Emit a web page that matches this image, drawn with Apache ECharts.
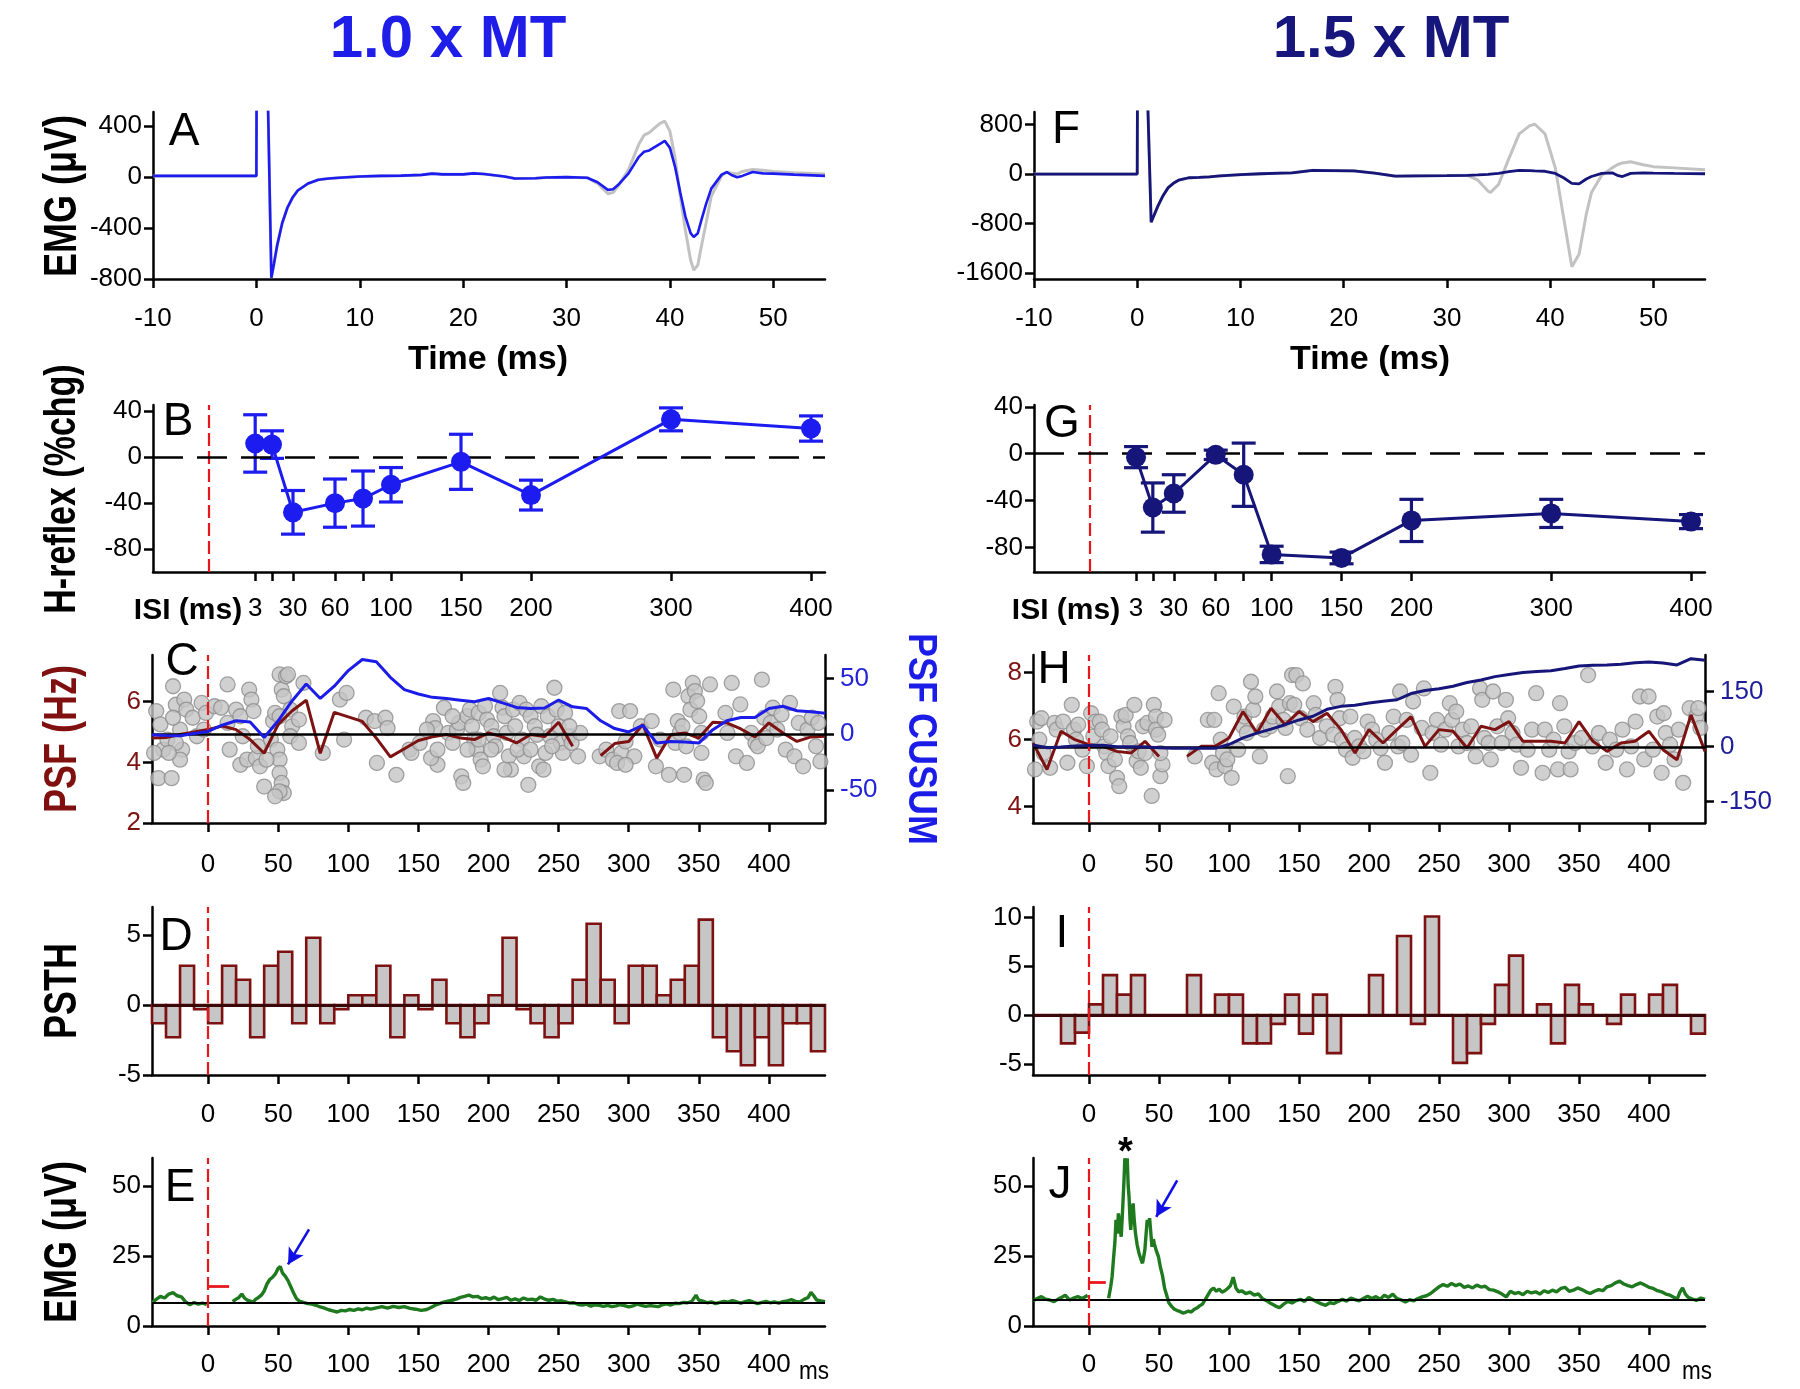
<!DOCTYPE html>
<html>
<head>
<meta charset="utf-8">
<script src="https://cdn.jsdelivr.net/npm/echarts@6.0.0/dist/echarts.min.js"></script>
<style>
html,body{margin:0;padding:0;background:#fff;}
#chart{width:1800px;height:1389px;}
</style>
</head>
<body>
<div id="chart"></div>
<script>
// ================= DATA =================
// Panels A / F : EMG sweeps (ms, µV)
const aTime = [-10,-5,-0.2,0,0.05,0.9,1.45,1.7,2,2.5,3,3.5,4,5,6,7,8,10,12,14,16,17,18,20,21,22,24,25,27,28,30,32,33,34,34.5,35,36,37,37.5,38,39,39.5,40,40.5,41,41.5,42,42.3,42.7,43,43.5,44,45,45.5,46,46.5,47,48,49,50,52,55];
const aTest = [10,10,10,10,1500,1500,-790,-680,-540,-360,-240,-160,-105,-50,-20,-10,-5,5,10,12,18,28,22,22,30,25,5,-10,-8,-2,0,-5,-40,-100,-95,-60,30,160,200,210,260,285,230,80,-120,-310,-440,-470,-440,-350,-210,-90,20,40,15,0,10,40,30,28,20,10];
const aControl = [10,10,10,10,1500,1500,-790,-680,-540,-360,-240,-160,-105,-50,-20,-10,-5,5,10,12,18,28,22,22,30,25,5,-10,-8,-2,0,-5,-50,-130,-120,-70,60,260,330,350,420,440,360,150,-150,-420,-650,-730,-690,-560,-360,-150,10,40,30,25,45,60,55,45,35,25];
const fTime = [-10,-5,-0.2,0,0.05,0.7,1.35,1.6,2,2.5,3,3.5,4,5,6,7,8,10,12,14,15,17,19,21,23,25,27,30,32,33,34,34.2,35,36,37,38,38.5,39.5,40.5,41.3,42.1,42.8,43.5,44,45,46,46.5,47,47.8,49,50,52,55];
const fTest = [0,0,0,0,3000,3000,-780,-680,-520,-350,-220,-150,-100,-60,-55,-45,-30,-10,5,15,20,60,55,50,15,-35,-30,-25,-20,-15,-5,0,10,40,60,55,50,45,10,-60,-150,-160,-80,-40,10,20,-20,-40,10,20,15,10,5];
const fControl = [0,0,0,0,3000,3000,-780,-680,-520,-350,-220,-150,-100,-60,-55,-45,-30,-10,5,15,20,60,55,50,15,-35,-30,-25,-20,-100,-280,-300,-170,250,650,780,810,650,100,-700,-1500,-1300,-650,-300,-20,100,150,180,200,150,120,100,70];

// Panels B / G : H-reflex % change vs ISI
const isiValues = [3,15,30,60,80,100,150,200,300,400];
const isiTickLabels = [3,30,60,100,150,200,300,400];
const isiStim = -30;
const bMean = [12,11,-48,-40,-36,-24,-4,-33,33,25];
const bSem  = [25,12,19,21,24,15,24,13,10,11];
const gMean = [-3,-46,-34,-1,-18,-86,-89,-57,-51,-58];
const gSem  = [9,21,16,4,27,7,5,18,12,6];

// Shared time bins (ms)
const timeTicks = [0,50,100,150,200,250,300,350,400];
const binTime = [-40,-30,-20,-10,0,10,20,30,40,50,60,70,80,90,100,110,120,130,140,150,160,170,180,190,200,210,220,230,240,250,260,270,280,290,300,310,320,330,340,350,360,370,380,390,400,410,420,430,440];

// Panels C / H : PSF (Hz) and CUSUM
const cPsf = [4.8,4.82,4.92,5.0,5.08,5.2,5.08,4.75,4.3,5.25,5.7,6.05,4.3,5.65,5.5,5.35,4.8,4.18,4.45,4.72,4.84,4.92,4.8,4.75,4.97,4.84,4.64,4.92,4.85,5.32,4.53,null,4.22,4.62,4.69,5.25,4.14,4.91,4.97,4.8,5.32,5.3,5.1,4.84,5.3,4.97,4.69,4.84,4.86];
const cCusum = [-0.6,-1.2,-1.5,0.5,2.4,8,12,11,-3,12,30,45,32,43,57,67,65,51,40,36,33,32,30.5,29,32,28,24,23,23.5,30.6,24.5,23,12,5,2,8,-8,-6.5,-7,-8,4,12,15,15,23,25,21,20,18.8];
const cMeanPsf = 4.92;
const hPsf = [5.9,5.11,6.25,6.0,5.85,5.8,5.65,5.6,5.95,5.5,null,5.5,5.8,5.8,6.05,6.84,6.2,6.94,6.45,6.84,6.54,6.79,6.3,5.6,6.3,5.9,6.3,6.69,5.8,6.3,6.25,5.75,6.4,6.3,6.54,5.95,5.95,5.95,5.9,6.54,5.95,5.65,5.9,5.95,6.25,5.7,5.4,6.74,5.65];
const hCusum = [4.5,-3,-1,2,3,4,0,0,-1,-3,-4,-4.5,-4.5,-4.5,6,24,37,48,60,73,83,102,110,113,119,124,128,145,153,158,165,175,182,191,197,202,205,207,213,220,222,223,225,229,231,228,223,240,236];
const hMeanPsf = 5.78;

const cDots = [[-37,5.69],[-34,5.25],[-32,4.42],[-29,4.75],[-35.5,3.48],[-26,3.48],[-25,6.51],[-23,5.9],[-20,5.08],[-18.5,4.42],[-17,6.07],[-15.5,5.74],[-25,5.47],[-23,4.64],[-20,4.09],[-28,4.31],[-38.5,4.31],[-11,5.47],[-8,4.86],[-4.6,5.96],[-3,5.08],[-1.5,5.63],
[4.6,5.85],[9.3,5.8],[13.9,6.57],[13.9,5.3],[15.4,4.42],[20,5.74],[23,5.52],[24.7,4.86],[29.3,6.4],[30.9,6.07],[32.4,5.69],[23,3.92],[27.8,4.09],[34,4.14],[37,3.87],[40,3.2],[44.8,4.75],[46.3,5.36],[47.8,5.63],[49.4,4.42],[51,4.09],[51,6.9],[52.5,6.4],[54,6.18],[55.6,6.84],[57,6.9],[51,3.65],[52.5,3.32],[54,2.99],[51,3.04],[47.8,2.88],[58.6,5.74],[60,5.19],[58.6,4.86],[51,5.52],[41.7,4.09],[35.5,4.53],
[68,6.62],[64.8,5.41],[64.8,4.64],[81.8,4.31],[94,6.07],[98.8,6.29],[97,4.75],[112.6,5.47],[118.8,5.36],[126.5,5.47],[128,5.13],[120.4,3.98],[134.3,3.59],[143.5,4.42],[145,4.31],
[160.5,5.36],[162,5.13],[163.6,3.92],[168.2,5.8],[171.3,4.97],[174.4,4.64],[177.5,5.08],[179,5.3],[180.6,3.54],[182,3.32],[185,5.52],[186.7,5.74],[188.3,5.19],[189.8,4.75],[191.4,4.42],[193,5.63],[194.4,4.09],[196,3.87],[197.5,5.85],[199,5.41],[202,5.19],[203.7,4.86],[205,4.53],[208.3,6.29],[210,5.8],[211.4,5.52],[213,4.97],[214.5,4.2],[216,3.76],[217.6,5.74],[219,5.19],[222.2,5.96],[223.8,4.75],[225.3,4.2],[226.9,5.74],[228.4,3.26],[230,5.52],[233,5.19],[234.6,4.91],[236.1,3.87],[237.7,5.85],[239.2,3.76],[240.7,4.31],[242.3,5.52],[243.8,4.86],[247,6.46],[248.5,5.74],[250,5.19],[251.5,4.64],[253,4.31],[254.6,5.63],[257.7,4.86],[259.3,4.64],[263.9,4.2],[265.4,4.97],[159,4.14],[163.6,4.42],[174.4,5.52],[185,4.42],[193,4.75],[202,4.42],[211.4,3.76],[220.7,4.42],[230,4.42],[245.4,4.53],[257.7,5.19],[151,4.64],[156,5.08],
[279.3,4.2],[284,4.42],[288.6,4.09],[293.2,5.69],[294.8,4.31],[297.8,4.69],[301,5.69],[304,4.2],[291.7,3.98],[297.8,3.92],[308.6,5.19],[316.4,5.36],[319.4,3.87],[322.5,4.75],[328.7,3.59],[331.8,6.4],[333.3,4.64],[335,5.36],[336.4,4.97],[339.5,3.59],[342.6,6.18],[344,5.74],[345.7,6.62],[347.2,6.35],[348.8,6.02],[350.3,5.52],[351.9,4.31],[353.4,3.43],[355,3.32],[358,6.57],[351.9,4.97],[341,4.53],[338.3,5.19],[369,5.63],[370.4,4.97],[373.5,6.62],[376.5,4.2],[379.6,5.91],[384.3,3.98],[387.3,4.97],[390.4,4.64],[392,4.53],[395,6.73],[396.6,5.47],[398.1,4.8],[401.2,5.3],[402.8,5.8],[405.9,5.08],[409,5.58],[412,4.42],[415,5.96],[418.2,4.2],[421.3,5.3],[424.4,3.87],[427.5,5.08],[430.6,5.47],[433.6,4.53],[436.7,4.03],[435.2,5.3]];

const hDots = [[-37,6.54],[-34,6.64],[-35.5,6.0],[-38.6,5.11],[-32.4,5.6],[-27.8,5.16],[-24.7,6.5],[-23.1,6.3],[-18.5,6.54],[-15.4,5.31],[-12.3,7.04],[-10.8,6.3],[-9.3,6.0],[-7.7,6.45],[-4.6,5.7],[-1.5,5.21],[1.5,6.79],[3.1,6.1],[4.6,6.54],[7.7,6.54],[9.3,6.3],[10.8,5.8],[12.3,5.6],[13.9,5.21],[15.4,6.1],[18.5,5.41],[20,4.86],[21.6,4.61],[23.1,6.69],[24.7,6.4],[26.2,6.74],[27.8,6.1],[29.3,5.9],[32.4,7.04],[34,5.36],[35.5,5.65],[37,5.16],[38.6,6.4],[41.7,6.5],[44.8,4.32],[46.3,7.04],[47.8,6.69],[47.8,6.3],[49.4,6.15],[51,4.91],[52.5,5.26],[54,6.59],[51,5.6],[40.1,5.6],
[75.6,5.5],[84.9,6.59],[88,5.31],[89.5,6.59],[91,5.11],[92.6,7.39],[94.1,6.0],[95.7,5.6],[97.2,5.21],[98.8,5.41],[101.9,4.86],[103.4,6.99],[106.5,5.7],[110,6.4],[111,6.69],[112.7,6.2],[115.7,7.73],[117.3,6.89],[118.8,7.29],[122,5.5],[125,6.3],[129.6,6.4],[131.2,6.69],[134.3,7.44],[135.8,6.99],[138.9,6.59],[140.4,6.35],[142,4.91],[143.5,7.09],[145,7.93],[148.1,7.93],[146.6,7.04],[151.2,6.64],[152.8,7.68],[155.9,6.3],[160.5,7.09],[162,6.74],[165.1,6.05],[169.8,6.4],[174.4,6.15],[176,7.58],[177.5,7.19],[179,6.64],[180.6,6.0],[183.6,5.7],[186.7,6.69],[188.3,5.46],[189.8,6.05],[193,5.8],[196,5.65],[199,6.54],[202.2,6.3],[205.2,6.0],[208.3,5.75],[211.4,5.31],[214.5,6.2],[217.6,6.69],[220.7,5.8],[222.2,7.44],[223.8,5.9],[226.9,6.59],[230,5.55],[231.5,7.14],[237.7,6.35],[239.2,7.53],[243.8,5.01],[245.4,6.2],[248.5,6.59],[251.5,5.85],[254.6,6.3],[257.7,7.09],[259.3,6.59],[262.3,6.84],[263.9,5.8],[267,6.3],[270,5.9],[273,6.4],[276.2,5.5],[279.3,7.53],[280.9,7.19],[282.4,6.05],[285.5,5.9],[287,5.41],[288.6,7.44],[291.7,6.4],[294.8,5.9],[297.8,7.19],[299.4,6.64],[302.5,6.2],[305.6,5.85],[308.6,5.16],[313.3,5.7],[316.4,6.3],[319.4,7.39],[324,5.01],[325.6,6.3],[328.7,5.7],[331.8,6.0],[335,5.11],[336.4,7.09],[339.5,6.4],[342.6,5.65],[344,5.11],[347.2,5.9],[351.9,6.05],[356.5,7.93],[359.6,5.8],[364.2,6.2],[369.1,5.31],[372,6.0],[376.5,5.7],[381,6.3],[384.3,5.11],[387.3,5.8],[390.4,6.54],[393.5,7.29],[396.6,5.41],[399.7,7.29],[402.8,5.7],[405.9,6.69],[409,5.01],[410.5,6.79],[412,6.2],[415.1,5.85],[418.2,5.41],[421.3,6.3],[424.4,4.71],[429,6.94],[433.6,6.69],[435.2,6.94],[436.7,6.35]];

// Panels D / I : PSTH (10 ms bins starting at)
const histStart = [-40,-30,-20,-10,0,10,20,30,40,50,60,70,80,90,100,110,120,130,140,150,160,170,180,190,200,210,220,230,240,250,260,270,280,290,300,310,320,330,340,350,360,370,380,390,400,410,420,430];
const histBinWidth = 10;
const dPsth = [-1.3,-2.3,2.8,-0.3,-1.3,2.8,1.8,-2.3,2.8,3.8,-1.3,4.8,-1.3,-0.3,0.7,0.7,2.8,-2.3,0.7,-0.3,1.8,-1.3,-2.3,-1.3,0.7,4.8,-0.3,-1.3,-2.3,-1.3,1.8,5.8,1.8,-1.3,2.8,2.8,0.7,1.8,2.8,6.1,-2.3,-3.3,-4.3,-2.3,-4.3,-1.3,-1.3,-3.3];
const iPsth = [0,0,-2.9,-1.8,1.1,4.1,2.1,4.1,0,0,0,4.1,0,2.1,2.1,-2.9,-2.9,-0.9,2.1,-1.9,2.1,-3.9,0,0,4.1,0,8.1,-0.9,10.1,0,-4.9,-3.9,-0.9,3.1,6.1,0,1.1,-2.9,3.1,1.1,0,-0.9,2.1,0,2.1,3.1,0,-1.9];

// Panels E / J : rectified EMG (ms, µV)
const eEmg = [[-40,8.3],[-37,9.5],[-34,10.6],[-31,10.0],[-28,11.4],[-25,11.9],[-22,10.8],[-19,10.4],[-16,8.6],[-13,7.6],[-10,8.4],[-7,7.8],[-4,8.2],[-1,7.6],[8,null],[17.5,8.7],[20,9.6],[22,10.2],[24,11.4],[26,10.0],[28,9.2],[30,8.9],[32,8.5],[34,9.6],[36,10.2],[38,11.0],[40,12.5],[42,15.0],[44,16.6],[46,17.4],[48,18.6],[50,20.6],[51.5,21.2],[53,19.0],[55,17.8],[57,16.2],[59,14.0],[61,11.8],[63,9.8],[65,8.9],[68,8.4],[71,8.0],[74,7.8],[77,7.4],[80,6.8],[83,6.4],[86,5.8],[89,5.4],[92,5.0],[95,5.6],[98,5.4],[101,5.9],[104,5.6],[107,6.1],[110,5.8],[113,6.4],[116,6.0],[120,6.5],[124,6.9],[128,6.4],[132,7.0],[136,6.6],[140,6.9],[144,6.3],[148,6.0],[152,5.6],[156,5.9],[159,6.6],[162,7.4],[165,8.0],[168,8.5],[171,8.9],[174,9.2],[177,9.6],[180,10.2],[183,10.6],[186,11.0],[189,10.4],[192,10.6],[195,9.8],[198,10.1],[201,9.6],[204,10.3],[207,9.4],[210,9.8],[213,10.2],[216,9.2],[219,9.7],[222,9.1],[225,10.0],[228,9.4],[231,9.6],[234,9.2],[237,10.4],[240,9.6],[243,9.2],[246,9.5],[249,8.9],[252,9.0],[255,8.6],[258,8.2],[261,8.3],[264,7.7],[267,7.5],[270,7.8],[273,7.1],[276,7.6],[279,7.4],[282,7.0],[285,7.4],[288,6.9],[291,7.2],[294,7.6],[297,7.3],[300,6.8],[303,7.2],[306,7.8],[309,7.4],[312,7.0],[315,7.3],[318,7.1],[321,6.9],[324,7.6],[327,7.9],[330,7.5],[333,8.1],[336,8.0],[339,8.4],[342,8.3],[345,8.8],[348,11.0],[350,9.2],[353,8.9],[356,8.3],[359,8.6],[362,8.0],[365,8.4],[368,8.8],[371,8.5],[374,9.1],[377,8.6],[380,8.2],[383,8.7],[386,9.1],[389,8.5],[392,8.0],[395,8.4],[398,8.8],[401,8.3],[404,8.6],[407,8.2],[410,8.7],[413,9.0],[416,9.4],[419,8.8],[422,8.6],[425,9.5],[428,10.2],[430,12.0],[432,10.8],[434,9.3],[437,9.0],[440,8.7]];
const jEmg = [[-40,9.0],[-37,9.8],[-34,10.5],[-31,9.6],[-28,9.3],[-25,8.7],[-22,9.6],[-19,10.4],[-17,11.0],[-14,9.3],[-11,10.0],[-8,10.5],[-5,9.8],[-2,10.6],[-1,11.0],[6,null],[14,9.9],[15.5,14.0],[16.5,17.6],[17.5,24.0],[18.5,30.0],[19.3,37.9],[20.2,33.0],[21,40.2],[22,36.0],[23,31.9],[24,41.4],[25,52.0],[25.6,59.9],[26.5,55.0],[27.3,59.9],[28,50.0],[28.6,46.2],[29.3,38.0],[29.8,34.3],[30.6,40.0],[31.5,43.8],[32.3,38.0],[33.2,33.1],[34.4,29.0],[35.7,26.0],[37,24.0],[38.2,22.4],[39,24.5],[39.9,27.1],[40.8,33.0],[41.6,37.9],[42.5,36.0],[43.3,38.5],[44.2,33.0],[45,28.3],[46,31.0],[46.6,29.5],[48,27.0],[49.6,24.8],[51,21.0],[52.5,18.0],[54,13.5],[55.5,11.0],[57,8.3],[59,7.0],[61,6.0],[63,5.5],[65,5.2],[67,4.6],[69,4.9],[71,5.3],[73,5.0],[75,5.9],[77,6.4],[79,7.2],[81,7.8],[83,9.4],[85,11.1],[87,12.8],[89,13.5],[91,12.4],[93,13.2],[95,12.1],[97,12.6],[99,13.4],[101,14.4],[103,17.4],[105,13.5],[107,12.2],[109,12.6],[112,11.6],[115,12.1],[118,11.0],[121,11.5],[124,9.7],[127,9.0],[130,8.0],[133,7.2],[136,6.5],[139,7.8],[142,8.8],[145,8.2],[148,9.1],[151,9.5],[154,8.8],[157,10.2],[160,9.4],[163,8.6],[166,7.9],[169,7.4],[172,8.3],[175,8.0],[178,8.8],[181,9.5],[184,8.9],[187,10.0],[190,9.4],[193,9.0],[196,9.8],[199,10.6],[202,9.8],[205,10.5],[208,9.6],[211,11.0],[214,10.2],[217,11.4],[220,9.8],[223,9.3],[226,8.6],[229,9.4],[232,9.0],[235,9.8],[238,10.4],[241,10.8],[244,11.6],[247,12.8],[250,14.0],[253,14.8],[256,14.2],[259,15.2],[262,14.4],[265,15.0],[268,13.8],[271,14.3],[274,13.6],[277,14.6],[280,13.9],[283,14.2],[286,13.0],[289,12.8],[292,12.2],[295,11.4],[298,10.4],[301,12.4],[304,11.6],[307,12.0],[310,11.2],[313,12.4],[316,11.8],[319,12.2],[322,11.4],[325,12.6],[328,12.0],[331,12.8],[334,12.2],[337,13.4],[340,13.8],[343,12.4],[346,12.8],[349,13.6],[352,13.0],[355,12.2],[358,11.6],[361,12.4],[364,13.0],[367,12.6],[370,14.0],[373,14.4],[376,15.4],[379,16.0],[382,15.0],[385,14.4],[388,14.0],[391,14.8],[394,15.4],[397,14.6],[400,13.8],[403,13.4],[406,12.6],[409,12.2],[412,11.4],[415,11.0],[418,10.2],[420,9.4],[422,12.0],[424,13.6],[426,11.4],[428,10.2],[431,9.6],[434,9.2],[437,10.0],[440,9.5]];
const eBaseline = 8.4, jBaseline = 9.5;
const eOnset = [[0,14.3],[15,14.3]];
const jOnset = [[0,15.5],[12,15.5]];
const eArrow = [[72,34.5],[57,22]];
const jArrow = [[63,52],[48,39]];
const jStar = [26,60];

// ================= STYLE =================
const FONT = "'Liberation Sans', Arial, Helvetica, sans-serif";
const BLUE = '#1c1cf0', NAVY = '#15157a', MAROON = '#7d1212', RED = '#e8171c', GREEN = '#1f7a1f', GRAY = '#c2c2c2';
const redDash = {color: RED, width: 2.2, type: [13, 5]};

const zip = (a, b) => a.map((x, i) => [x, b[i] === null ? '-' : b[i]]);
const clean = arr => arr.map(p => [p[0], p[1] === null ? '-' : p[1]]);

function valueAxis(opt) {
  return {
    type: 'value', gridIndex: opt.grid, min: opt.min, max: opt.max,
    position: opt.position,
    splitLine: {show: false},
    axisLine: {show: true, onZero: false, lineStyle: {color: '#000', width: 2.5}},
    axisTick: {show: true, inside: false, length: 9, customValues: opt.ticks, lineStyle: {color: '#000', width: 2.5}},
    axisLabel: {show: true, customValues: opt.labels || opt.ticks, color: opt.color || '#000', fontSize: 26,
      fontFamily: FONT, margin: opt.margin, formatter: v => String(v)}
  };
}

const grids = [
  {left:153, top:112, width:672, height:167},  // A
  {left:1034, top:112, width:671, height:167}, // F
  {left:153, top:405, width:672, height:167},  // B
  {left:1034, top:405, width:671, height:167}, // G
  {left:152, top:655, width:673, height:168},  // C
  {left:1033, top:655, width:672, height:168}, // H
  {left:152, top:907, width:673, height:168},  // D
  {left:1033, top:907, width:672, height:168}, // I
  {left:152, top:1158, width:673, height:168}, // E
  {left:1033, top:1158, width:672, height:168} // J
].map(g => Object.assign({containLabel:false, outerBoundsMode:'none', show:false}, g));

const msTicks = [-10,0,10,20,30,40,50];
const xAxes = [
  valueAxis({grid:0, min:-10, max:55, ticks:msTicks, margin:27}),
  valueAxis({grid:1, min:-10, max:55, ticks:msTicks, margin:27}),
  valueAxis({grid:2, min:-70, max:410, ticks:isiValues, labels:isiTickLabels, margin:24}),
  valueAxis({grid:3, min:-70, max:410, ticks:isiValues, labels:isiTickLabels, margin:24}),
  valueAxis({grid:4, min:-40, max:440, ticks:timeTicks, margin:29}),
  valueAxis({grid:5, min:-40, max:440, ticks:timeTicks, margin:29}),
  valueAxis({grid:6, min:-40, max:440, ticks:timeTicks, margin:27}),
  valueAxis({grid:7, min:-40, max:440, ticks:timeTicks, margin:27}),
  valueAxis({grid:8, min:-40, max:440, ticks:timeTicks, margin:26}),
  valueAxis({grid:9, min:-40, max:440, ticks:timeTicks, margin:26})
];
const yAxes = [
  valueAxis({grid:0, min:-800, max:512, ticks:[-800,-400,0,400], margin:11}),
  valueAxis({grid:1, min:-1700, max:1005, ticks:[-1600,-800,0,800], margin:11}),
  valueAxis({grid:2, min:-100, max:45.5, ticks:[-80,-40,0,40], margin:11}),
  valueAxis({grid:3, min:-101, max:41.5, ticks:[-80,-40,0,40], margin:11}),
  valueAxis({grid:4, min:2, max:7.54, ticks:[2,4,6], margin:11, color:MAROON}),
  valueAxis({grid:4, min:-79.7, max:71, ticks:[-50,0,50], margin:15, color:'#2323d8', position:'right'}),
  valueAxis({grid:5, min:3.51, max:8.53, ticks:[4,6,8], margin:11, color:MAROON}),
  valueAxis({grid:5, min:-208, max:250, ticks:[-150,0,150], margin:15, color:'#1e1e9a', position:'right'}),
  valueAxis({grid:6, min:-5, max:7, ticks:[-5,0,5], margin:11}),
  valueAxis({grid:7, min:-6.14, max:11.08, ticks:[-5,0,5,10], margin:11}),
  valueAxis({grid:8, min:0, max:60, ticks:[0,25,50], margin:11}),
  valueAxis({grid:9, min:0, max:60, ticks:[0,25,50], margin:11})
];
xAxes.forEach(a => a.position = 'bottom');
yAxes.forEach(a => { if (!a.position) a.position = 'left'; });

function errRender(color) {
  return function (params, api) {
    const x = api.value(0), lo = api.value(1), hi = api.value(2);
    const p1 = api.coord([x, hi]), p2 = api.coord([x, lo]);
    const w = 12;
    const st = {stroke: color, lineWidth: 3.2};
    return {type: 'group', children: [
      {type: 'line', shape: {x1: p1[0], y1: p1[1], x2: p2[0], y2: p2[1]}, style: st},
      {type: 'line', shape: {x1: p1[0]-w, y1: p1[1], x2: p1[0]+w, y2: p1[1]}, style: st},
      {type: 'line', shape: {x1: p2[0]-w, y1: p2[1], x2: p2[0]+w, y2: p2[1]}, style: st}
    ]};
  };
}
function histRender(params, api) {
  const x = api.value(0), v = api.value(1);
  const a = api.coord([x, 0]), b = api.coord([x + histBinWidth, v]);
  return {type: 'rect',
    shape: {x: a[0], y: Math.min(a[1], b[1]), width: b[0] - a[0], height: Math.abs(b[1] - a[1])},
    style: {fill: '#c6c6c6', stroke: '#7d1010', lineWidth: 2.6}};
}
const mlBase = {silent: true, symbol: 'none', label: {show: false}, emphasis: {disabled: true}, animation: false};
const lineSeries = (xi, yi, data, color, width, z, extra) => Object.assign({
  type: 'line', xAxisIndex: xi, yAxisIndex: yi, data: data, showSymbol: false, symbol: 'none',
  lineStyle: {color: color, width: width}, itemStyle: {color: color}, z: z, clip: true,
  emphasis: {disabled: true}, connectNulls: false
}, extra || {});

const dotStyle = {color: '#c4c4c4', borderColor: '#8d8d8d', borderWidth: 1.3};
const series = [
  // A
  lineSeries(0, 0, zip(aTime, aControl), GRAY, 3, 2),
  lineSeries(0, 0, zip(aTime, aTest), BLUE, 2.6, 3),
  // F
  lineSeries(1, 1, zip(fTime, fControl), GRAY, 3, 2),
  lineSeries(1, 1, zip(fTime, fTest), NAVY, 2.8, 3),
  // B
  {type: 'custom', xAxisIndex: 2, yAxisIndex: 2, renderItem: errRender(BLUE), encode: {x: 0, y: [1, 2]},
   data: isiValues.map((x, i) => [x, bMean[i] - bSem[i], bMean[i] + bSem[i]]), z: 4, silent: true},
  lineSeries(2, 2, zip(isiValues, bMean), BLUE, 3, 5, {showSymbol: true, symbol: 'circle', symbolSize: 20,
    markLine: Object.assign({}, mlBase, {data: [
      {xAxis: isiStim, lineStyle: redDash},
      {yAxis: 0, lineStyle: {color: '#000', width: 2.6, type: [30, 14]}}
    ]})}),
  // G
  {type: 'custom', xAxisIndex: 3, yAxisIndex: 3, renderItem: errRender(NAVY), encode: {x: 0, y: [1, 2]},
   data: isiValues.map((x, i) => [x, gMean[i] - gSem[i], gMean[i] + gSem[i]]), z: 4, silent: true},
  lineSeries(3, 3, zip(isiValues, gMean), NAVY, 3, 5, {showSymbol: true, symbol: 'circle', symbolSize: 20,
    markLine: Object.assign({}, mlBase, {data: [
      {xAxis: isiStim, lineStyle: redDash},
      {yAxis: 0, lineStyle: {color: '#000', width: 2.6, type: [30, 14]}}
    ]})}),
  // C
  {type: 'scatter', xAxisIndex: 4, yAxisIndex: 4, data: cDots, symbolSize: 15, z: 2, silent: true, itemStyle: dotStyle},
  lineSeries(4, 4, zip(binTime, cPsf), MAROON, 3, 4, {
    markLine: Object.assign({}, mlBase, {data: [
      {yAxis: cMeanPsf, lineStyle: {color: '#000', width: 2.6, type: 'solid'}},
      {xAxis: 0, lineStyle: redDash}
    ]})}),
  lineSeries(4, 5, zip(binTime, cCusum), '#1c1ce8', 3, 5),
  // H
  {type: 'scatter', xAxisIndex: 5, yAxisIndex: 6, data: hDots, symbolSize: 15, z: 2, silent: true, itemStyle: dotStyle},
  lineSeries(5, 6, zip(binTime, hPsf), MAROON, 3, 4, {
    markLine: Object.assign({}, mlBase, {data: [
      {yAxis: hMeanPsf, lineStyle: {color: '#000', width: 2.6, type: 'solid'}},
      {xAxis: 0, lineStyle: redDash}
    ]})}),
  lineSeries(5, 7, zip(binTime, hCusum), NAVY, 3, 5),
  // D
  {type: 'custom', xAxisIndex: 6, yAxisIndex: 8, renderItem: histRender, encode: {x: 0, y: 1},
   data: zip(histStart, dPsth), z: 3, silent: true,
   markLine: Object.assign({}, mlBase, {data: [
     {yAxis: 0, lineStyle: {color: '#3a0808', width: 3, type: 'solid'}},
     {xAxis: 0, lineStyle: redDash}
   ]})},
  // I
  {type: 'custom', xAxisIndex: 7, yAxisIndex: 9, renderItem: histRender, encode: {x: 0, y: 1},
   data: zip(histStart, iPsth), z: 3, silent: true,
   markLine: Object.assign({}, mlBase, {data: [
     {yAxis: 0, lineStyle: {color: '#3a0808', width: 3, type: 'solid'}},
     {xAxis: 0, lineStyle: redDash}
   ]})},
  // E
  lineSeries(8, 10, clean(eEmg), GREEN, 3.4, 4, {
    markLine: Object.assign({}, mlBase, {data: [
      {yAxis: eBaseline, lineStyle: {color: '#000', width: 2.2, type: 'solid'}},
      {xAxis: 0, lineStyle: redDash},
      [{coord: eOnset[0], lineStyle: {color: RED, width: 2.8, type: 'solid'}}, {coord: eOnset[1]}],
      [{coord: eArrow[0], symbol: 'none', lineStyle: {color: '#1010e6', width: 2.6, type: 'solid'}},
       {coord: eArrow[1], symbol: 'arrow', symbolSize: [13, 16]}]
    ]})}),
  // J
  lineSeries(9, 11, clean(jEmg), GREEN, 3.4, 4, {
    markLine: Object.assign({}, mlBase, {data: [
      {yAxis: jBaseline, lineStyle: {color: '#000', width: 2.2, type: 'solid'}},
      {xAxis: 0, lineStyle: redDash},
      [{coord: jOnset[0], lineStyle: {color: RED, width: 2.8, type: 'solid'}}, {coord: jOnset[1]}],
      [{coord: jArrow[0], symbol: 'none', lineStyle: {color: '#1010e6', width: 2.6, type: 'solid'}},
       {coord: jArrow[1], symbol: 'arrow', symbolSize: [13, 16]}]
    ]}),
    markPoint: {silent: true, symbol: 'circle', symbolSize: 0, animation: false,
      data: [{coord: jStar, label: {show: true, formatter: '*', position: 'inside', offset: [0, -4],
        color: '#000', fontSize: 38, fontWeight: 'bold', fontFamily: FONT}}]}
  })
];

// ================= TEXT =================
function txt(x, y, text, size, opts) {
  opts = opts || {};
  return {type: 'text', x: x, y: y, rotation: opts.rot || 0, scaleX: opts.sx || 1, scaleY: opts.sy || 1,
    silent: true, z: 100,
    style: {text: text, fill: opts.color || '#000', align: 'center', verticalAlign: 'middle',
      font: (opts.bold ? 'bold ' : '') + size + 'px ' + FONT}};
}
const R = Math.PI / 2;
const graphics = [
  txt(448, 40, '1.0 x MT', 60, {bold: true, color: '#1e1ee8'}),
  txt(1391, 40, '1.5 x MT', 60, {bold: true, color: '#16167c'}),
  txt(488, 360, 'Time (ms)', 34, {bold: true}),
  txt(1370, 360, 'Time (ms)', 34, {bold: true}),
  txt(188, 611, 'ISI (ms)', 30, {bold: true}),
  txt(1066, 611, 'ISI (ms)', 30, {bold: true}),
  txt(814, 1372, 'ms', 25, {sx: 0.9}),
  txt(1697, 1372, 'ms', 25, {sx: 0.9}),
  txt(63, 196, 'EMG (\u03bcV)', 36, {bold: true, rot: R, sy: 1.3}),
  txt(63, 489, 'H-reflex (%chg)', 34, {bold: true, rot: R, sy: 1.3}),
  txt(63, 739, 'PSF (Hz)', 36, {bold: true, rot: R, sy: 1.3, color: '#801010'}),
  txt(63, 991, 'PSTH', 36, {bold: true, rot: R, sy: 1.3}),
  txt(63, 1242, 'EMG (\u03bcV)', 36, {bold: true, rot: R, sy: 1.3}),
  txt(920, 739, 'PSF CUSUM', 36, {bold: true, rot: -R, sy: 1.15, color: '#1c1ce8'}),
  txt(184, 132, 'A', 46), txt(1066, 130, 'F', 46),
  txt(178, 422, 'B', 46), txt(1062, 424, 'G', 46),
  txt(182, 662, 'C', 46), txt(1054, 670, 'H', 46),
  txt(176, 937, 'D', 46), txt(1062, 934, 'I', 46),
  txt(180, 1188, 'E', 46), txt(1060, 1185, 'J', 46)
];

const chart = echarts.init(document.getElementById('chart'), null, {renderer: 'canvas', width: 1800, height: 1389});
chart.setOption({
  animation: false,
  backgroundColor: '#fff',
  textStyle: {fontFamily: FONT},
  grid: grids,
  xAxis: xAxes,
  yAxis: yAxes,
  series: series,
  graphic: graphics
});
</script>
</body>
</html>
